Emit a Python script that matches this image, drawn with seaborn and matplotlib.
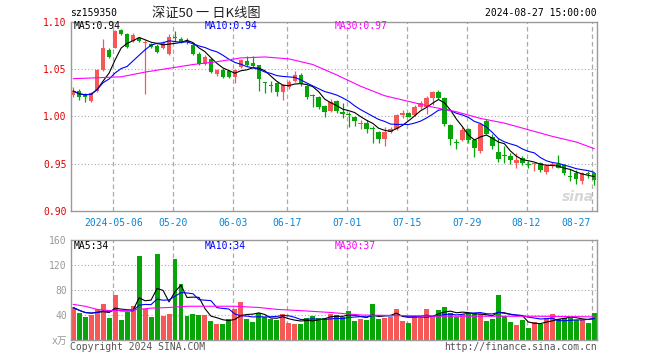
import numpy as np
import pandas as pd
import seaborn as sns
import matplotlib
matplotlib.use("Agg")
import matplotlib.pyplot as plt

W, H = 660, 360

# daily candles, 2024-04-22 .. 2024-08-27 (88 trading days)
opens = [1.023, 1.027, 1.023, 1.016, 1.027, 1.049, 1.070, 1.073, 1.092, 1.087,
         1.080, 1.083, 1.078, 1.077, 1.075, 1.072, 1.066, 1.084, 1.082, 1.080,
         1.076, 1.066, 1.056, 1.061, 1.045, 1.049, 1.048, 1.042, 1.052, 1.059,
         1.057, 1.054, 1.036, 1.033, 1.035, 1.026, 1.031, 1.038, 1.044, 1.032,
         1.023, 1.021, 1.011, 1.006, 1.016, 1.005, 1.003, 0.999, 0.992, 0.993,
         0.988, 0.984, 0.976, 0.984, 0.987, 1.002, 1.004, 1.002, 1.010, 1.010,
         1.020, 1.026, 1.020, 0.991, 0.973, 0.975, 0.987, 0.975, 0.963, 0.995,
         0.978, 0.962, 0.959, 0.958, 0.951, 0.956, 0.950, 0.950, 0.951, 0.941,
         0.949, 0.950, 0.949, 0.937, 0.940, 0.932, 0.940, 0.940]
highs = [1.031, 1.029, 1.025, 1.026, 1.050, 1.082, 1.073, 1.092, 1.093, 1.088,
         1.088, 1.084, 1.081, 1.078, 1.077, 1.080, 1.087, 1.090, 1.084, 1.083,
         1.078, 1.068, 1.065, 1.062, 1.050, 1.051, 1.049, 1.050, 1.061, 1.064,
         1.064, 1.055, 1.036, 1.038, 1.036, 1.034, 1.039, 1.048, 1.046, 1.033,
         1.024, 1.022, 1.012, 1.018, 1.017, 1.014, 1.005, 1.000, 0.996, 0.996,
         0.990, 0.985, 0.989, 0.989, 1.003, 1.007, 1.005, 1.012, 1.016, 1.022,
         1.027, 1.028, 1.021, 0.992, 0.976, 0.989, 0.988, 0.976, 0.993, 0.997,
         0.982, 0.977, 0.969, 0.961, 0.961, 0.958, 0.953, 0.951, 0.952, 0.950,
         0.952, 0.959, 0.950, 0.944, 0.943, 0.941, 0.942, 0.941]
lows = [1.021, 1.017, 1.015, 1.015, 1.026, 1.048, 1.062, 1.072, 1.086, 1.073,
        1.079, 1.079, 1.024, 1.073, 1.067, 1.071, 1.065, 1.080, 1.078, 1.077,
        1.065, 1.054, 1.054, 1.046, 1.043, 1.041, 1.041, 1.035, 1.051, 1.053,
        1.052, 1.027, 1.025, 1.026, 1.022, 1.017, 1.029, 1.037, 1.032, 1.018,
        1.010, 1.008, 0.999, 1.005, 1.004, 0.998, 0.989, 0.990, 0.987, 0.983,
        0.972, 0.972, 0.969, 0.983, 0.986, 0.998, 0.999, 1.001, 1.008, 1.003,
        1.012, 1.019, 0.990, 0.970, 0.966, 0.974, 0.972, 0.957, 0.961, 0.981,
        0.966, 0.952, 0.951, 0.950, 0.946, 0.949, 0.946, 0.942, 0.941, 0.939,
        0.945, 0.945, 0.938, 0.932, 0.929, 0.929, 0.935, 0.928]
closes = [1.027, 1.021, 1.021, 1.025, 1.049, 1.072, 1.063, 1.091, 1.087, 1.074,
          1.086, 1.080, 1.079, 1.074, 1.068, 1.078, 1.084, 1.083, 1.079, 1.079,
          1.066, 1.056, 1.063, 1.047, 1.049, 1.042, 1.042, 1.049, 1.060, 1.054,
          1.053, 1.040, 1.035, 1.032, 1.026, 1.033, 1.037, 1.044, 1.034, 1.021,
          1.022, 1.010, 1.005, 1.015, 1.006, 1.003, 1.002, 0.995, 0.993, 0.987,
          0.987, 0.976, 0.984, 0.987, 1.002, 1.004, 1.000, 1.010, 1.014, 1.020,
          1.026, 1.020, 0.992, 0.976, 0.972, 0.986, 0.975, 0.967, 0.992, 0.982,
          0.969, 0.955, 0.958, 0.954, 0.954, 0.951, 0.949, 0.951, 0.943, 0.948,
          0.950, 0.946, 0.940, 0.936, 0.934, 0.940, 0.939, 0.933]
# volume, x 10k
volumes = [52, 43, 37, 40, 49, 58, 36, 72, 32, 45,
           54, 134, 49, 37, 138, 39, 42, 130, 90, 39,
           42, 40, 40, 30, 26, 26, 33, 50, 61, 34,
           29, 43, 37, 33, 32, 41, 27, 26, 26, 36,
           38, 35, 35, 42, 40, 37, 47, 31, 33, 32,
           58, 34, 36, 37, 50, 31, 28, 38, 36, 50,
           37, 48, 53, 43, 37, 42, 44, 43, 42, 31,
           34, 72, 39, 29, 24, 32, 20, 29, 26, 36,
           42, 33, 36, 36, 32, 32, 28, 44]

# MA30 lines at a few days
ma30_idx = [0, 4, 8, 12, 16, 20, 24, 28, 32, 36, 40, 44, 48, 52, 56, 60, 64, 68, 72, 76, 80, 84, 87]
ma30_val = [1.040, 1.041, 1.042, 1.047, 1.051, 1.055, 1.058, 1.062, 1.063, 1.061, 1.055, 1.044,
            1.032, 1.022, 1.016, 1.010, 1.005, 0.998, 0.993, 0.986, 0.979, 0.973, 0.966]
vol_ma30_idx = [0, 2, 4, 6, 10, 13, 16, 19, 23, 27, 31, 34, 38, 43, 48, 55, 62, 70, 78, 87]
vol_ma30_val = [57, 54, 49, 47, 48, 51, 52, 54, 54, 54, 52, 49, 47, 44, 40, 39, 38, 38, 38, 37]

tick_idx = [7, 17, 27, 36, 46, 56, 66, 76, 87]
tick_labels = ["2024-05-06", "05-20", "06-03", "06-17", "07-01", "07-15", "07-29", "08-12", "08-27"]

RED = "#f65858"
GREEN = "#08a508"
GRID = "#aaaaaa"
FRAME = "#9a9a9a"

sns.set_style("white")
plt.rcParams["font.family"] = ["DejaVu Sans Mono", "Noto Sans CJK SC"]

df = pd.DataFrame({"i": np.arange(len(closes)), "open": opens, "high": highs,
                   "low": lows, "close": closes, "vol": volumes})
df["ma5"] = df["close"].rolling(5, min_periods=1).mean()
df["ma10"] = df["close"].rolling(10, min_periods=1).mean()
df["vma5"] = df["vol"].rolling(5, min_periods=1).mean()
df["vma10"] = df["vol"].rolling(10, min_periods=1).mean()
up = df["close"] >= df["open"]
colors = np.where(up, RED, GREEN)


def px(x, y):
    return x / W, 1 - y / H


def frame(ax):
    for s in ax.spines.values():
        s.set_color(FRAME)
        s.set_linewidth(1.0)
    for k in tick_idx:
        ax.axvline(k - 0.3, color=GRID, lw=0.9, dashes=(3.6, 2.4), zorder=0)


fig = plt.figure(figsize=(6.6, 3.6), dpi=100)
xlim = (-0.37, 87.47)

# price panel
ax = fig.add_axes([71 / W, 1 - 211 / H, 526 / W, 189 / H])
frame(ax)
for v in [0.95, 1.00, 1.05]:
    ax.axhline(v, color=GRID, lw=0.8, dashes=(1, 2), zorder=0)
ax.vlines(df["i"], df["low"], df["high"], colors=colors, lw=0.9, zorder=1)
body = (df["close"] - df["open"]).abs().clip(lower=0.0011)
ax.bar(df["i"], body, bottom=df[["open", "close"]].min(axis=1), width=0.75,
       color=colors, lw=0, zorder=1)
sns.lineplot(x=df["i"], y=df["ma5"], color="black", lw=0.8, ax=ax, zorder=3)
sns.lineplot(x=df["i"], y=df["ma10"], color="#0000ff", lw=0.8, ax=ax, zorder=3)
sns.lineplot(x=ma30_idx, y=ma30_val, color="#ff00ff", lw=0.8, ax=ax, zorder=3)
ax.set_xlim(*xlim)
ax.set_ylim(0.90, 1.10)
ax.set_yticks([0.90, 0.95, 1.00, 1.05, 1.10])
ax.set_yticklabels([f"{v:.2f}" for v in [0.90, 0.95, 1.00, 1.05, 1.10]])
ax.tick_params(axis="y", length=0, pad=3, labelcolor="#e60000", labelsize=7)
ax.set_xticks([k - 0.3 for k in tick_idx[:-1]] + [83.9])
ax.set_xticklabels(tick_labels)
ax.tick_params(axis="x", length=0, pad=5, labelcolor="#0a84d6", labelsize=7)
ax.set_xlabel("")
ax.set_ylabel("")
ax.text(0.995, 0.035, "sina", transform=ax.transAxes, ha="right", va="bottom",
        fontsize=10, fontweight="bold", style="italic", color="#d6d6d6",
        family="DejaVu Sans", zorder=0)

# volume panel
ax2 = fig.add_axes([71 / W, 1 - 340 / H, 526 / W, 100 / H])
frame(ax2)
for v in [40, 80, 120]:
    ax2.axhline(v, color=GRID, lw=0.8, dashes=(1, 2), zorder=0)
ax2.bar(df["i"], df["vol"], width=0.83, color=colors, lw=0, zorder=1)
sns.lineplot(x=df["i"], y=df["vma5"], color="black", lw=0.8, ax=ax2, zorder=3)
sns.lineplot(x=df["i"], y=df["vma10"], color="#0000ff", lw=0.8, ax=ax2, zorder=3)
sns.lineplot(x=vol_ma30_idx, y=vol_ma30_val, color="#ff00ff", lw=0.8, ax=ax2, zorder=3)
ax2.set_xlim(*xlim)
ax2.set_ylim(0, 160)
ax2.set_yticks([0, 40, 80, 120, 160])
ax2.set_yticklabels(["x万", "40", "80", "120", "160"])
ax2.tick_params(axis="y", length=0, pad=3, labelcolor="#999999", labelsize=7)
ax2.set_xticks([])
ax2.set_xlabel("")
ax2.set_ylabel("")

# header
fig.text(*px(70, 13), "sz159350", ha="left", va="center", fontsize=7, color="black")
fig.text(*px(206, 13), "深证50 一 日K线图", ha="center", va="center", fontsize=9.5,
         color="#222222", family=["Noto Sans CJK SC", "DejaVu Sans"])
fig.text(*px(597, 13), "2024-08-27 15:00:00", ha="right", va="center", fontsize=7, color="black")

# MA legends
ma5_last = df["ma5"].iloc[-1]
ma10_last = df["ma10"].iloc[-1]
fig.text(*px(74, 26), f"MA5:{ma5_last:.2f}", ha="left", va="center", fontsize=7, color="black")
fig.text(*px(205, 26), f"MA10:{ma10_last:.2f}", ha="left", va="center", fontsize=7, color="#0000ff")
fig.text(*px(335, 26), f"MA30:{ma30_val[-1]:.2f}", ha="left", va="center", fontsize=7, color="#ff00ff")
fig.text(*px(74, 246), f"MA5:{df['vma5'].iloc[-1]:.0f}", ha="left", va="center", fontsize=7, color="black")
fig.text(*px(205, 246), f"MA10:{df['vma10'].iloc[-1]:.0f}", ha="left", va="center", fontsize=7, color="#0000ff")
fig.text(*px(335, 246), f"MA30:{vol_ma30_val[-1]:.0f}", ha="left", va="center", fontsize=7, color="#ff00ff")

# footer
fig.text(*px(70, 347), "Copyright 2024 SINA.COM", ha="left", va="center", fontsize=7, color="#555555")
fig.text(*px(597, 347), "http://finance.sina.com.cn", ha="right", va="center", fontsize=7, color="#555555")

fig.savefig("out.png", dpi=100, facecolor="white")
plt.close(fig)
